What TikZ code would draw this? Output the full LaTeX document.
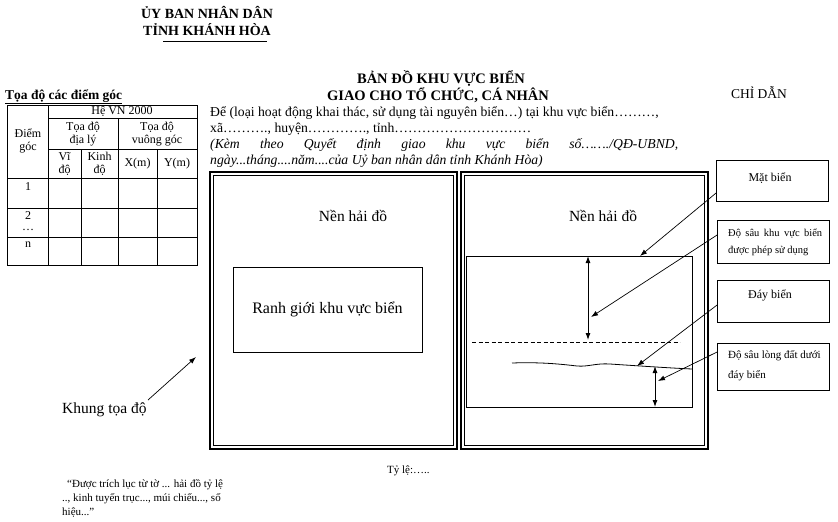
\documentclass[tikz,border=0pt]{standalone}
\usepackage{fontspec}
\setmainfont{Liberation Serif}
\usetikzlibrary{arrows.meta}
\begin{document}
\begin{tikzpicture}[x=1pt,y=-1pt,
  tbl/.style={line width=0.8pt},
  tip/.style={-{Latex[length=7pt,width=5pt]}, line width=0.7pt},
  dtip/.style={{Latex[length=7pt,width=5pt]}-{Latex[length=7pt,width=5pt]}, line width=0.9pt},
  legbox/.style={draw, line width=0.8pt, minimum width=112pt, inner sep=0pt},
  txt/.style={inner sep=0pt, anchor=base},
  txtw/.style={inner sep=0pt, anchor=base west},
  tcell/.style={inner sep=0pt, align=center, font=\fontsize{12}{13}\selectfont}
]
\useasboundingbox (0,0) rectangle (838,522);

% header
\node[txt, font=\fontsize{14}{16}\selectfont\bfseries] (h1) at (207,18) {ỦY BAN NHÂN DÂN};
\node[txt, font=\fontsize{14}{16}\selectfont\bfseries] (h2) at (207,35) {TỈNH KHÁNH HÒA};
\draw[line width=1pt] (163,41) -- (267,41);

% title
\node[txt, font=\fontsize{14.5}{16}\selectfont\bfseries] (t1) at (441,83) {BẢN ĐỒ KHU VỰC BIỂN};
\node[txt, font=\fontsize{14.5}{16}\selectfont\bfseries] (t2) at (438,100) {GIAO CHO TỔ CHỨC, CÁ NHÂN};
\node[txtw, font=\fontsize{13.7}{15}\selectfont] (l1) at (210,116) {Để (loại hoạt động khai thác, sử dụng tài nguyên biển…) tại khu vực biển………,};
\node[txtw, font=\fontsize{13.7}{15}\selectfont] (l2) at (210,132) {xã………., huyện…………., tỉnh…………………………};
\node[txtw, font=\fontsize{13.7}{15}\selectfont\itshape] (l3) at (210,148) {\makebox[468pt][s]{(Kèm theo Quyết định giao khu vực biển số……./QĐ-UBND,}};
\node[txtw, font=\fontsize{13.7}{15}\selectfont\itshape] (l4) at (210,164) {ngày...tháng....năm....của Uỷ ban nhân dân tỉnh Khánh Hòa)};

\node[txt, font=\fontsize{13.5}{15}\selectfont] (cd) at (759,98) {CHỈ DẪN};

% table
\node[txtw, font=\fontsize{13.5}{15}\selectfont\bfseries] (tt) at (5,99) {\underline{Tọa độ các điểm góc}};
\draw[tbl] (7,105) rectangle (197,265);
\draw[tbl] (48,105) -- (48,265);
\draw[tbl] (48,118) -- (197,118);
\draw[tbl] (48,149) -- (197,149);
\draw[tbl] (7,178) -- (197,178);
\draw[tbl] (7,208) -- (197,208);
\draw[tbl] (7,237) -- (197,237);
\draw[tbl] (118,118) -- (118,265);
\draw[tbl] (81,149) -- (81,265);
\draw[tbl] (157,149) -- (157,265);
\node[tcell] (c0) at (122,111.5) {Hệ VN 2000};
\node[tcell] (c1) at (83,134) {Tọa độ\\địa lý};
\node[tcell] (c2) at (157,134) {Tọa độ\\vuông góc};
\node[tcell] (c3) at (28,141) {Điểm\\góc};
\node[tcell] (c4) at (64.5,164) {Vĩ\\độ};
\node[tcell] (c5) at (99.5,164) {Kinh\\độ};
\node[tcell] (c6) at (137.5,164) {X(m)};
\node[tcell] (c7) at (177,164) {Y(m)};
\node[tcell] (r1) at (28,187) {1};
\node[tcell, font=\fontsize{12}{11}\selectfont] (r2) at (28,221) {2\\…};
\node[tcell] (rn) at (28,245) {n};

% left frame
\draw[line width=1.3pt] (210,172) rectangle (457,449);
\draw[line width=0.6pt] (213.5,175.5) rectangle (453.5,445.5);
\node[txt, font=\fontsize{15.5}{17}\selectfont] (nh1) at (353,221) {Nền hải đồ};
\node[draw, line width=0.8pt, minimum width=189pt, minimum height=85pt, inner sep=0pt, font=\fontsize{16}{18}\selectfont] (rg) at (327.5,309.5) {Ranh giới khu vực biển};

% right frame
\draw[line width=1.3pt] (461,172) rectangle (708,449);
\draw[line width=0.6pt] (464.5,175.5) rectangle (704.5,445.5);
\node[txt, font=\fontsize{15.5}{17}\selectfont] (nh2) at (603,221) {Nền hải đồ};
\draw[line width=0.7pt] (466,256) rectangle (692,407);
\draw[line width=0.9pt, dash pattern=on 4pt off 2.5pt] (472,342) -- (680,342);
\draw[line width=0.8pt] (512,363) .. controls (540,362) and (560,364) .. (577,366) .. controls (588,367) and (596,363) .. (610,364) .. controls (640,366) and (670,368) .. (692,369);
\coordinate (a1) at (588,256);
\coordinate (a2) at (588,340);
\coordinate (b1) at (655,366);
\coordinate (b2) at (655,407);
\draw[dtip] (a1) -- (a2);
\draw[dtip] (b1) -- (b2);

% legend boxes
\node[legbox, minimum height=41pt] (k1) at (772.5,180.5) {};
\node[txt, font=\fontsize{12}{14}\selectfont] at (770,181) {Mặt biển};
\node[legbox, minimum height=43pt] (k2) at (773.5,241.5) {};
\node[txtw, font=\fontsize{10.5}{12}\selectfont] at (728,236) {\makebox[94pt][s]{Độ sâu khu vực biển}};
\node[txtw, font=\fontsize{10.5}{12}\selectfont] at (728,253) {được phép sử dụng};
\node[legbox, minimum height=42pt] (k3) at (773.5,301) {};
\node[txt, font=\fontsize{12}{14}\selectfont] at (770,298) {Đáy biển};
\node[legbox, minimum height=47pt] (k4) at (773.5,366.5) {};
\node[txtw, font=\fontsize{11}{13}\selectfont] at (728,358) {Độ sâu lòng đất dưới};
\node[txtw, font=\fontsize{11}{13}\selectfont] at (728,378) {đáy biển};

\coordinate (p1) at (640,256);
\coordinate (p2) at (591,317);
\coordinate (p3) at (637,366);
\coordinate (p4) at (658,381);
\draw[tip] (k1.west |- 0,193) -- (p1);
\draw[tip] (k2.west |- 0,235) -- (p2);
\draw[tip] (k3.west |- 0,305) -- (p3);
\draw[tip] (k4.west |- 0,352) -- (p4);

% khung toa do
\node[txtw, font=\fontsize{15.5}{17}\selectfont] (kt) at (62,413) {Khung tọa độ};
\coordinate (kp) at (196,357);
\draw[tip] (148,400) -- (kp);

% footer
\node[txtw, font=\fontsize{11}{13}\selectfont] (ty) at (387,473) {Tỷ lệ:…..};
\node[txtw, font=\fontsize{11}{14}\selectfont] (q1) at (67,487) {“Được trích lục từ tờ ... hải đồ tỷ lệ};
\node[txtw, font=\fontsize{11}{14}\selectfont] (q2) at (62,501) {.., kinh tuyến trục..., múi chiếu..., số};
\node[txtw, font=\fontsize{11}{14}\selectfont] (q3) at (62,515) {hiệu...”};
\end{tikzpicture}
\end{document}
